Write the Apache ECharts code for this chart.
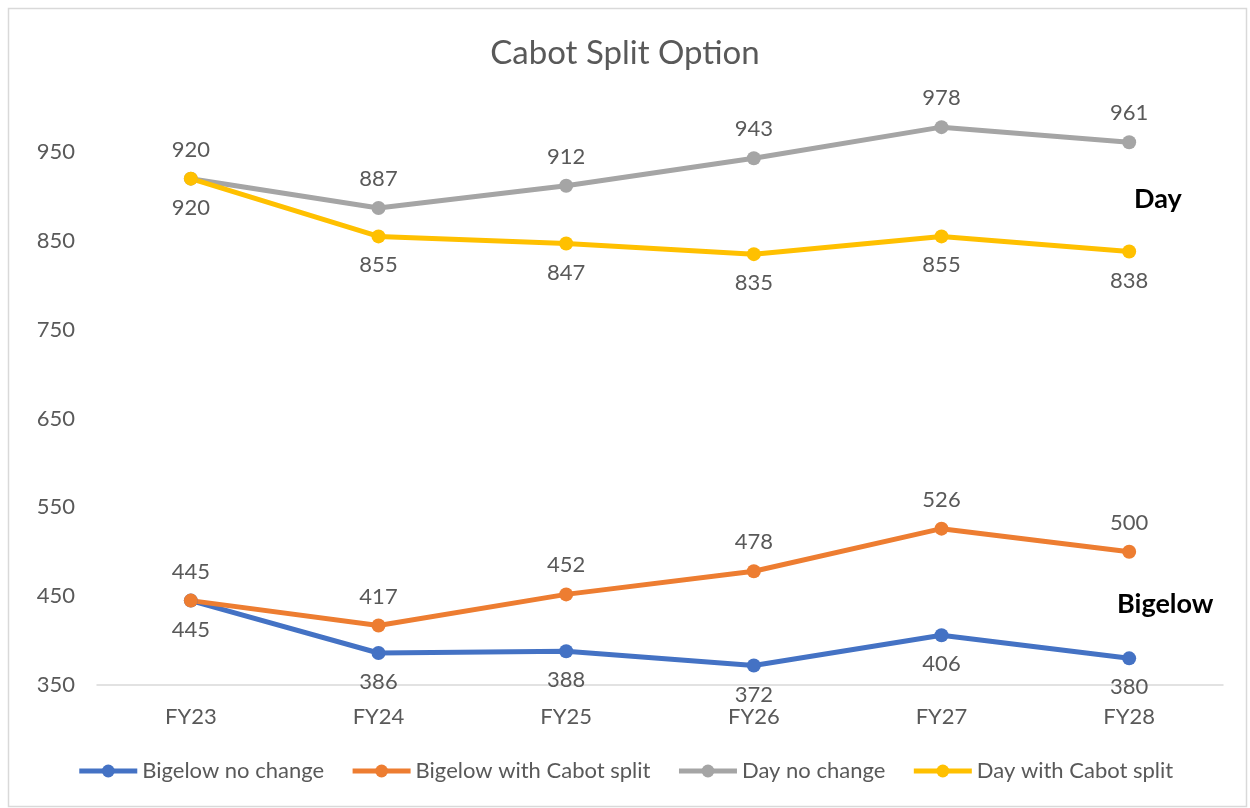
<!DOCTYPE html>
<html>
<head>
<meta charset="utf-8">
<script src="https://cdn.jsdelivr.net/npm/echarts@6/dist/echarts.min.js"></script>
<style>html,body{margin:0;padding:0;background:#fff}#c{width:1250px;height:808px}</style>
</head>
<body>
<div id="c"></div>
<script>
const categories = ['FY23','FY24','FY25','FY26','FY27','FY28'];
const bigelowNoChange = [445,386,388,372,406,380];
const bigelowCabot = [445,417,452,478,526,500];
const dayNoChange = [920,887,912,943,978,961];
const dayCabot = [920,855,847,835,855,838];
const yTicks = [350,450,550,650,750,850,950];

const FONT = 'Lato, "Open Sans", sans-serif';
const chart = echarts.init(document.getElementById('c'));
function mk(name, data, color, pos) {
  return {
    name, type: 'line', data,
    symbol: 'circle', symbolSize: 14,
    lineStyle: {width: 5, color},
    itemStyle: {color},
    label: {show: true, position: pos, distance: 11, color: '#595959', fontSize: 22, fontFamily: FONT},
    z: 3
  };
}
chart.setOption({
  animation: false,
  title: {text: 'Cabot Split Option', left: 'center', top: 32,
    textStyle: {color: '#595959', fontSize: 33, fontWeight: 'normal', fontFamily: FONT}},
  legend: {bottom: 21, left: 'center', itemWidth: 58, itemHeight: 16, itemGap: 26,
    lineStyle: {width: 5},
    textStyle: {color: '#595959', fontSize: 22, fontFamily: FONT}},
  grid: {left: 97, right: 27, top: 107.6, bottom: 123},
  xAxis: {type: 'category', data: categories, boundaryGap: true,
    axisLine: {lineStyle: {color: '#d9d9d9', width: 1.5}}, axisTick: {show: false},
    axisLabel: {color: '#595959', fontSize: 22, fontFamily: FONT, margin: 21}},
  yAxis: {type: 'value', min: 350, max: 1000,
    splitLine: {show: false}, axisLine: {show: false}, axisTick: {show: false},
    axisLabel: {customValues: yTicks, color: '#595959', fontSize: 22, fontFamily: FONT, margin: 22}},
  series: [
    mk('Bigelow no change', bigelowNoChange, '#4472C4', 'bottom'),
    mk('Bigelow with Cabot split', bigelowCabot, '#ED7D31', 'top'),
    mk('Day no change', dayNoChange, '#A5A5A5', 'top'),
    mk('Day with Cabot split', dayCabot, '#FFC000', 'bottom')
  ],
  graphic: [
    {type: 'rect', left: 6, top: 6, shape: {width: 1238, height: 798}, style: {fill: 'none', stroke: '#d9d9d9', lineWidth: 1.5}, silent: true},
    {type: 'text', left: 1134, top: 186, style: {text: 'Day', fill: '#000', font: 'bold 27px ' + FONT}},
    {type: 'text', left: 1117, top: 591, style: {text: 'Bigelow', fill: '#000', font: 'bold 27px ' + FONT}}
  ]
});
</script>
</body>
</html>
